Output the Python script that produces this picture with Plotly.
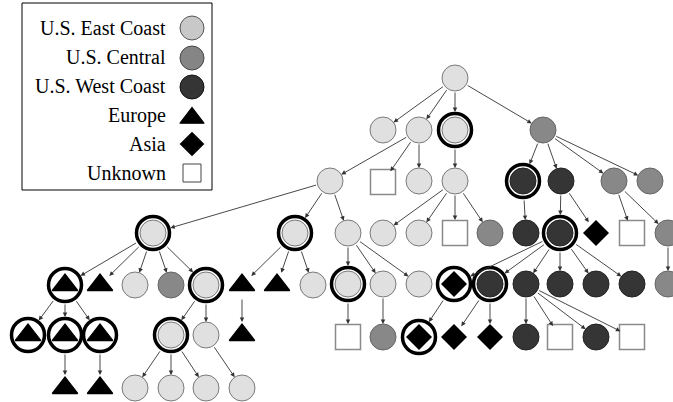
import plotly.graph_objects as go

# ---------------- data ----------------
# node positions (pixel-like layout units), region and highlight flag
node_x = [455, 383, 419, 455, 543,
          330, 383, 419, 455, 523, 561, 614, 650,
          153, 295, 348, 383, 419, 455, 490, 526, 560, 596, 632, 668,
          65, 100, 135, 171, 206, 242, 277, 313, 348, 383, 419, 454, 490, 526, 560, 596, 632, 668,
          28, 65, 100, 171, 206, 242, 348, 383, 419, 454, 490, 526, 560, 596, 632,
          65, 100, 135, 171, 206, 242]
node_y = [78, 130, 130, 130, 130,
          181, 182, 181, 181, 181, 181, 181, 181,
          233, 233, 233, 233, 233, 233, 233, 233, 233, 233, 233, 233,
          285, 285, 285, 285, 285, 285, 285, 285, 284, 284, 284, 284, 284, 284, 284, 284, 284, 284,
          335, 335, 335, 335, 335, 335, 337, 337, 337, 337, 337, 337, 337, 337, 337,
          388, 388, 388, 388, 388, 388]
node_region = ["E", "E", "E", "E", "C",
               "E", "U", "E", "E", "W", "W", "C", "C",
               "E", "E", "E", "E", "E", "U", "C", "W", "W", "A", "U", "C",
               "EU", "EU", "E", "C", "E", "EU", "EU", "E", "E", "E", "E", "A", "W", "W", "W", "W", "W", "C",
               "EU", "EU", "EU", "E", "E", "EU", "U", "C", "A", "A", "A", "W", "U", "W", "U",
               "EU", "EU", "E", "E", "E", "E"]
node_ring = [0, 0, 0, 1, 0,
             0, 0, 0, 0, 1, 0, 0, 0,
             1, 1, 0, 0, 0, 0, 0, 0, 1, 0, 0, 0,
             1, 0, 0, 0, 1, 0, 0, 0, 1, 0, 0, 1, 1, 0, 0, 0, 0, 0,
             1, 1, 1, 1, 0, 0, 0, 0, 1, 0, 0, 0, 0, 0, 0,
             0, 0, 0, 0, 0, 0]
edge_parent = [0, 0, 0, 0, 2, 2, 2, 3, 4, 4, 4, 4, 5, 5, 5, 8, 8, 8, 8, 9, 10, 10, 11, 11,
               13, 13, 13, 13, 13, 14, 14, 14, 15, 15, 15, 21, 21, 21, 21, 21, 21, 24,
               25, 25, 25, 29, 29, 30, 33, 34, 36, 37, 37, 38, 38, 38, 38, 44, 45, 46, 46, 46, 47]
edge_child = [1, 2, 3, 4, 5, 6, 7, 8, 9, 10, 11, 12, 13, 14, 15, 16, 17, 18, 19, 20, 21, 22, 23, 24,
              25, 26, 27, 28, 29, 30, 31, 32, 33, 34, 35, 36, 37, 38, 39, 40, 41, 42,
              43, 44, 45, 46, 47, 48, 49, 50, 51, 52, 53, 54, 55, 56, 57, 58, 59, 60, 61, 62, 63]

legend_labels = ["U.S. East Coast", "U.S. Central", "U.S. West Coast", "Europe", "Asia", "Unknown"]
legend_codes = ["E", "C", "W", "EU", "A", "U"]

# ---------------- styles ----------------
STYLE = {
    "E": dict(symbol="circle", size=26, color="#e0e0e0", line=dict(color="#7a7a7a", width=1)),
    "C": dict(symbol="circle", size=26, color="#888888", line=dict(color="#666666", width=1)),
    "W": dict(symbol="circle", size=26, color="#353535", line=dict(color="#222222", width=1)),
    "EU": dict(symbol="triangle-up", size=22, color="#000000", line=dict(color="#000000", width=1.3)),
    "A": dict(symbol="diamond", size=20, color="#000000", line=dict(color="#000000", width=0)),
    "U": dict(symbol="square", size=25, color="#ffffff", line=dict(color="#8a8a8a", width=1.5)),
}
LEG_STYLE = {
    "E": dict(symbol="circle", size=24, color="#c8c8c8", line=dict(color="#555555", width=1)),
    "C": dict(symbol="circle", size=24, color="#858585", line=dict(color="#444444", width=1)),
    "W": dict(symbol="circle", size=24, color="#353535", line=dict(color="#111111", width=1)),
    "EU": dict(symbol="triangle-up", size=21, color="#000000", line=dict(color="#000000", width=1.2)),
    "A": dict(symbol="diamond", size=19, color="#000000", line=dict(color="#000000", width=0)),
    "U": dict(symbol="square", size=18, color="#ffffff", line=dict(color="#444444", width=1)),
}

W, H = 673, 402
fig = go.Figure()

# highlight rings
rx = [x for x, r in zip(node_x, node_ring) if r]
ry = [y for y, r in zip(node_y, node_ring) if r]
fig.add_trace(go.Scatter(x=rx, y=ry, mode="markers", hoverinfo="skip",
                         marker=dict(symbol="circle", size=33, color="#ffffff",
                                     line=dict(color="#000000", width=3.5))))

# nodes by region
for code, st in STYLE.items():
    xs = [x for x, c in zip(node_x, node_region) if c == code]
    ys = [y for y, c in zip(node_y, node_region) if c == code]
    fig.add_trace(go.Scatter(x=xs, y=ys, mode="markers", hoverinfo="skip",
                             marker=dict(symbol=st["symbol"], size=st["size"], color=st["color"],
                                         line=st["line"])))

# edges as arrows
annotations = []
for p, c in zip(edge_parent, edge_child):
    annotations.append(dict(
        x=node_x[c], y=node_y[c], ax=node_x[p], ay=node_y[p],
        xref="x", yref="y", axref="x", ayref="y", text="", showarrow=True,
        arrowhead=2, arrowsize=1.0, arrowwidth=0.9, arrowcolor="#333333",
        standoff=18 if node_ring[c] else 13,
        startstandoff=18 if node_ring[p] else 13))

# legend box
leg_left, leg_right, leg_top, leg_bottom = 22, 212, 3, 190
row_y = [28, 57, 86, 115, 144, 173]
sym_y = [28, 58, 87, 118, 144, 173]
fig.add_shape(type="rect", x0=leg_left, x1=leg_right, y0=leg_top, y1=leg_bottom,
              xref="x", yref="y", line=dict(color="#000000", width=1), fillcolor="#ffffff",
              layer="below")
for lab, code, ty, sy in zip(legend_labels, legend_codes, row_y, sym_y):
    annotations.append(dict(x=168, y=ty, xref="x", yref="y", text=lab, showarrow=False,
                            xanchor="right", yanchor="middle",
                            font=dict(family="Liberation Serif", size=20, color="#000000")))
    st = LEG_STYLE[code]
    fig.add_trace(go.Scatter(x=[192], y=[sy], mode="markers", hoverinfo="skip",
                             marker=dict(symbol=st["symbol"], size=st["size"], color=st["color"],
                                         line=st["line"])))

fig.update_layout(
    width=W, height=H, margin=dict(l=0, r=0, t=0, b=0),
    paper_bgcolor="#ffffff", plot_bgcolor="#ffffff", showlegend=False,
    annotations=annotations,
    xaxis=dict(range=[0, W], visible=False, fixedrange=True),
    yaxis=dict(range=[H, 0], visible=False, fixedrange=True),
)
fig.write_html("out.html", config={"displayModeBar": False},
               post_script="document.body.style.margin='0';document.body.style.overflow='hidden';")
